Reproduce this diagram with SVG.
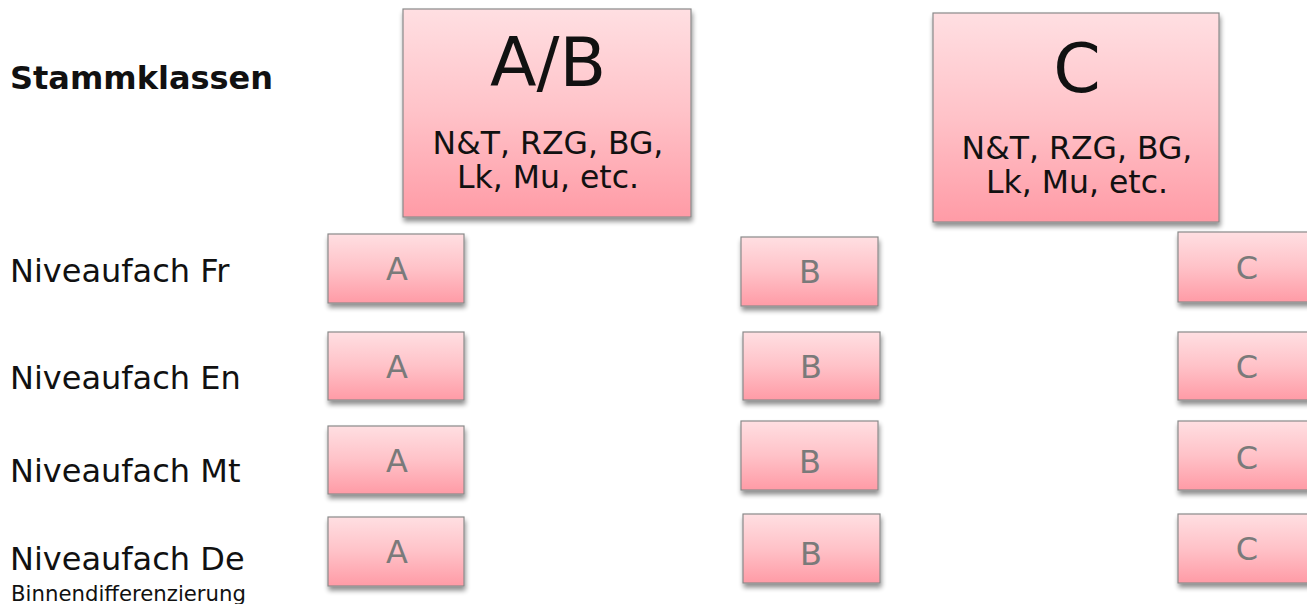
<svg xmlns="http://www.w3.org/2000/svg" width="1307" height="604" viewBox="0 0 1307 604">
<defs>
<linearGradient id="g" x1="0" y1="0" x2="0" y2="1">
<stop offset="0" stop-color="#ffdfe2"/>
<stop offset="0.5" stop-color="#ffc2c8"/>
<stop offset="1" stop-color="#ff9ba6"/>
</linearGradient>
<filter id="sh" x="-10%" y="-10%" width="125%" height="130%">
<feGaussianBlur in="SourceAlpha" stdDeviation="2.5"/>
<feOffset dx="1" dy="4" result="b"/>
<feComponentTransfer><feFuncA type="linear" slope="0.45"/></feComponentTransfer>
<feMerge><feMergeNode/><feMergeNode in="SourceGraphic"/></feMerge>
</filter>
</defs>
<style>
.box{fill:url(#g);stroke:#8a8a8a;stroke-width:1.2;filter:url(#sh)}
.lbl{font-family:"DejaVu Sans",Verdana,sans-serif;font-size:32px;fill:#111}
.note{font-family:"DejaVu Sans",Verdana,sans-serif;font-size:21px;fill:#111}
.big{font-family:"DejaVu Sans",Verdana,sans-serif;font-size:68px;fill:#111;text-anchor:middle}
.sub{font-family:"DejaVu Sans",Verdana,sans-serif;font-size:31.5px;fill:#111;text-anchor:middle}
.sm{font-family:"DejaVu Sans",Verdana,sans-serif;font-size:32px;fill:#7a7a7a;text-anchor:middle}
</style>
<rect width="1307" height="604" fill="#fff"/>
<g id="labels">
<text class="lbl" x="10" y="89" font-weight="bold">Stammklassen</text>
<text class="lbl" x="10" y="282">Niveaufach Fr</text>
<text class="lbl" x="10" y="389">Niveaufach En</text>
<text class="lbl" x="10" y="482">Niveaufach Mt</text>
<text class="lbl" x="10" y="570">Niveaufach De</text>
<text class="note" x="11" y="601" textLength="235" lengthAdjust="spacingAndGlyphs">Binnendifferenzierung</text>
</g>
<g id="AB">
<rect class="box" x="403" y="9" width="288" height="208"/>
<text class="big" x="548" y="86">A/B</text>
<text class="sub" x="548" y="154">N&amp;T, RZG, BG,</text>
<text class="sub" x="548" y="188">Lk, Mu, etc.</text>
</g>
<g id="C">
<rect class="box" x="933" y="13" width="286" height="209"/>
<text class="big" x="1077" y="92">C</text>
<text class="sub" x="1077" y="159">N&amp;T, RZG, BG,</text>
<text class="sub" x="1077" y="193">Lk, Mu, etc.</text>
</g>
<g id="A-Fr"><rect class="box" x="328" y="234" width="136" height="69"/><text class="sm" x="397" y="280">A</text></g>
<g id="A-En"><rect class="box" x="328" y="332" width="136" height="68"/><text class="sm" x="397" y="378">A</text></g>
<g id="A-Mt"><rect class="box" x="328" y="426" width="136" height="68"/><text class="sm" x="397" y="472">A</text></g>
<g id="A-De"><rect class="box" x="328" y="517" width="136" height="69"/><text class="sm" x="397" y="563">A</text></g>
<g id="B-Fr"><rect class="box" x="741" y="237" width="137" height="69"/><text class="sm" x="810" y="283">B</text></g>
<g id="B-En"><rect class="box" x="743" y="332" width="137" height="68"/><text class="sm" x="811" y="378">B</text></g>
<g id="B-Mt"><rect class="box" x="741" y="421" width="137" height="69"/><text class="sm" x="810" y="473">B</text></g>
<g id="B-De"><rect class="box" x="743" y="514" width="137" height="69"/><text class="sm" x="811" y="565">B</text></g>
<g id="C-Fr"><rect class="box" x="1178" y="232" width="140" height="70"/><text class="sm" x="1247" y="279">C</text></g>
<g id="C-En"><rect class="box" x="1178" y="332" width="140" height="68"/><text class="sm" x="1247" y="378">C</text></g>
<g id="C-Mt"><rect class="box" x="1178" y="421" width="140" height="69"/><text class="sm" x="1247" y="469">C</text></g>
<g id="C-De"><rect class="box" x="1178" y="514" width="140" height="69"/><text class="sm" x="1247" y="560">C</text></g>
<g id="connectors"></g>
</svg>
